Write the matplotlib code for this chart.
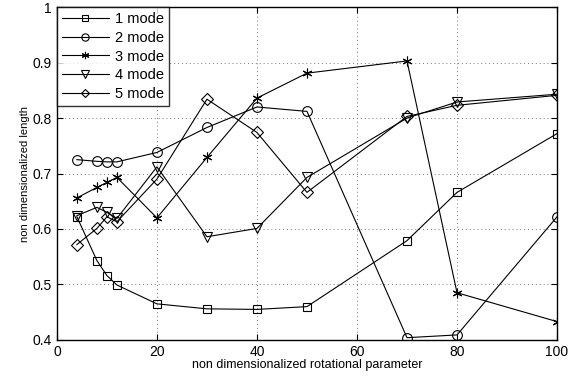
import matplotlib
matplotlib.use("Agg")
import matplotlib.pyplot as plt

plt.rcParams['font.family'] = ['Liberation Sans', 'DejaVu Sans']

# rotational parameter
x = [4, 8, 10, 12, 20, 30, 40, 50, 70, 80, 100]

mode1 = [0.622, 0.543, 0.516, 0.499, 0.465, 0.456, 0.455, 0.460, 0.579, 0.666, 0.772]
mode2 = [0.725, 0.722, 0.721, 0.721, 0.738, 0.783, 0.820, 0.812, 0.404, 0.409, 0.622]
mode3 = [0.656, 0.675, 0.684, 0.693, 0.620, 0.729, 0.836, 0.881, 0.903, 0.485, 0.433]
mode4 = [0.624, 0.639, 0.630, 0.619, 0.712, 0.586, 0.601, 0.693, 0.800, 0.829, 0.843]
mode5 = [0.572, 0.601, 0.622, 0.613, 0.690, 0.834, 0.774, 0.666, 0.803, 0.823, 0.841]

labels = ['1 mode', '2 mode', '3 mode', '4 mode', '5 mode']
markers = ['s', 'o', (6, 2, 0), 'v', 'D']
sizes = [6, 7, 7, 7.5, 6]

fig = plt.figure(figsize=(5.69, 3.76), dpi=100)
ax = fig.add_axes([0.1, 0.096, 0.879, 0.885])

for y, lab, m, s in zip([mode1, mode2, mode3, mode4, mode5], labels, markers, sizes):
    ax.plot(x, y, color='black', linewidth=0.8, marker=m, markersize=s,
            markerfacecolor='none', markeredgecolor='black', markeredgewidth=0.8,
            label=lab)

ax.set_xlim(0, 100)
ax.set_ylim(0.4, 1.0)
ax.set_xticks([0, 20, 40, 60, 80, 100])
ax.set_yticks([0.4, 0.5, 0.6, 0.7, 0.8, 0.9, 1.0])
ax.set_yticklabels(['0.4', '0.5', '0.6', '0.7', '0.8', '0.9', '1'])
ax.tick_params(direction='in', top=True, right=True, labelsize=10, length=4, width=0.8)
ax.grid(True, linestyle=(0, (1, 3)), color='#777777', linewidth=0.7)
for sp in ax.spines.values():
    sp.set_linewidth(1.0)

ax.set_xlabel("non dimensionalized rotational parameter", fontsize=9, labelpad=0)
ax.set_ylabel("non dimensionalized length", fontsize=8, labelpad=2)

leg = ax.legend(loc='upper left', fontsize=10.5, frameon=True, fancybox=False,
                edgecolor='black', borderaxespad=0, handlelength=3.2,
                labelspacing=0.32, borderpad=0.35, markerscale=0.75,
                handletextpad=0.4)
leg.get_frame().set_linewidth(1.0)

fig.savefig("out.png", dpi=100)
